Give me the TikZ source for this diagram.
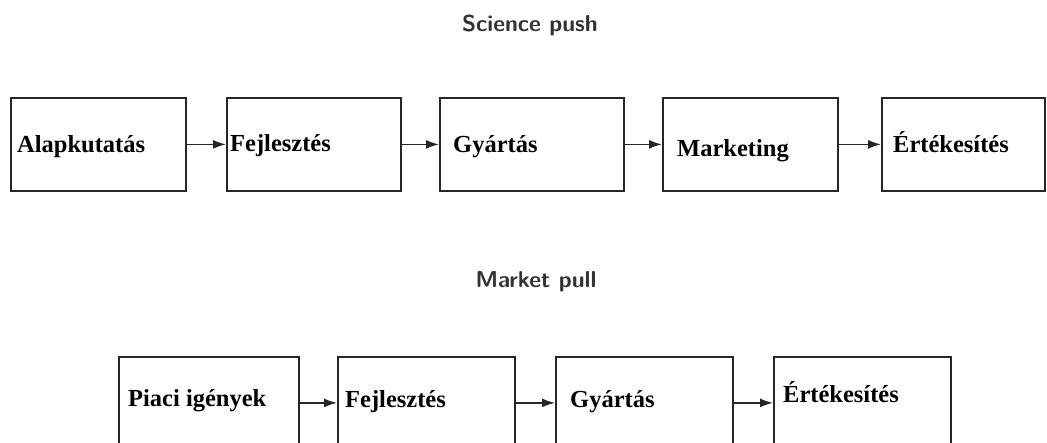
\documentclass[tikz,border=0pt]{standalone}
\usepackage{fontspec}
\setmainfont{Liberation Serif}
\usetikzlibrary{arrows.meta}
\tikzset{
  stagebox/.style={draw=black!85, line width=1.8pt, anchor=north west, inner sep=0pt, fill=white},
  boxlabel/.style={anchor=base west, inner sep=0pt, font=\fontsize{24.5}{28}\selectfont\bfseries},
  titlelabel/.style={anchor=base, inner sep=0pt, text=black!80, font=\fontsize{23}{27}\sffamily\bfseries},
  flow/.style={draw=black!85, line width=1.5pt, -{Latex[length=13pt,width=9pt]}}
}
\begin{document}
\begin{tikzpicture}[x=1pt,y=-1pt]
\useasboundingbox (0,0) rectangle (1047,443);
\clip (0,0) rectangle (1047,443);
% titles
\node[titlelabel] (tsp) at (530,32) {Science push};
\node[titlelabel] (tmp) at (536,288) {Market pull};
% top row
\node[stagebox, minimum width=175pt, minimum height=93pt] (a1) at (10,97) {};
\node[stagebox, minimum width=174pt, minimum height=93pt] (a2) at (226,97) {};
\node[stagebox, minimum width=184pt, minimum height=93pt] (a3) at (439,97) {};
\node[stagebox, minimum width=175pt, minimum height=93pt] (a4) at (662,97) {};
\node[stagebox, minimum width=163pt, minimum height=93pt] (a5) at (881,97) {};
\node[boxlabel] (la1) at (17,153) {Alapkutatás};
\node[boxlabel] (la2) at (230,152) {Fejlesztés};
\node[boxlabel] (la3) at (453,153) {Gyártás};
\node[boxlabel] (la4) at (677,157) {Marketing};
\node[boxlabel] (la5) at (893,153) {Értékesítés};
\draw[flow] (a1.east) -- (a2.west);
\draw[flow] (a2.east) -- (a3.west);
\draw[flow] (a3.east) -- (a4.west);
\draw[flow] (a4.east) -- (a5.west);
% bottom row
\node[stagebox, minimum width=180pt, minimum height=92pt] (b1) at (118,356) {};
\node[stagebox, minimum width=177pt, minimum height=92pt] (b2) at (337,356) {};
\node[stagebox, minimum width=177pt, minimum height=92pt] (b3) at (555,356) {};
\node[stagebox, minimum width=177pt, minimum height=92pt] (b4) at (773,356) {};
\node[boxlabel] (lb1) at (128,407) {Piaci igények};
\node[boxlabel] (lb2) at (345,408) {Fejlesztés};
\node[boxlabel] (lb3) at (570,408) {Gyártás};
\node[boxlabel] (lb4) at (783,403) {Értékesítés};
\draw[flow] (b1.east) -- (b2.west);
\draw[flow] (b2.east) -- (b3.west);
\draw[flow] (b3.east) -- (b4.west);
\end{tikzpicture}
\end{document}
